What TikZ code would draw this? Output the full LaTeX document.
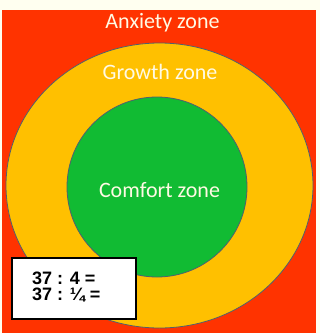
\documentclass[tikz,border=0pt]{standalone}
\usepackage{fontspec}
\setmainfont{Carlito}
\newfontfamily\boxfont{Liberation Sans}
\usepackage{tikz}
\usetikzlibrary{positioning}
\usepackage{xcolor}
\definecolor{pagecream}{RGB}{255,255,240}
\definecolor{anxred}{RGB}{255,51,0}
\definecolor{growyellow}{RGB}{255,192,0}
\definecolor{comfgreen}{RGB}{17,187,51}
\definecolor{rimgrey}{RGB}{80,96,110}
\definecolor{labelwhite}{RGB}{255,250,228}

\begin{document}
\begin{tikzpicture}[
    x=1pt, y=-1pt,
    zonelabel/.style={text=labelwhite, font=\fontsize{22}{26}\selectfont, inner sep=0pt, anchor=base},
    zonerim/.style={draw=rimgrey, line width=0.8pt},
    taskbox/.style={draw=black, line width=1.5pt, fill=white, minimum width=124pt, minimum height=61pt, inner sep=0pt},
    sumlines/.style={font=\boxfont\bfseries\fontsize{18}{16}\selectfont, align=left, anchor=base west, inner sep=0pt}
]
\useasboundingbox (0,0) rectangle (320,333);
\fill[pagecream] (0,0) rectangle (320,333);
\fill[anxred] (2,10) rectangle (316,333);

% zones
\draw[zonerim, fill=growyellow] (159.5,185.5) ellipse [x radius=153.5pt, y radius=142.5pt];
\draw[zonerim, fill=comfgreen] (157,187) circle [radius=90pt];

\node[zonelabel] (anxiety) at (162.5,28.5) {Anxiety zone};
\node[zonelabel] (growth) at (160,79) {Growth zone};
\node[zonelabel] (comfort) at (159.5,197) {Comfort zone};

% task box
\node[taskbox] (task) at (74,288.5) {};
\node[sumlines] (sums) at (32,300) {37 : 4 =\\37 : ¼ =};
\end{tikzpicture}
\end{document}
